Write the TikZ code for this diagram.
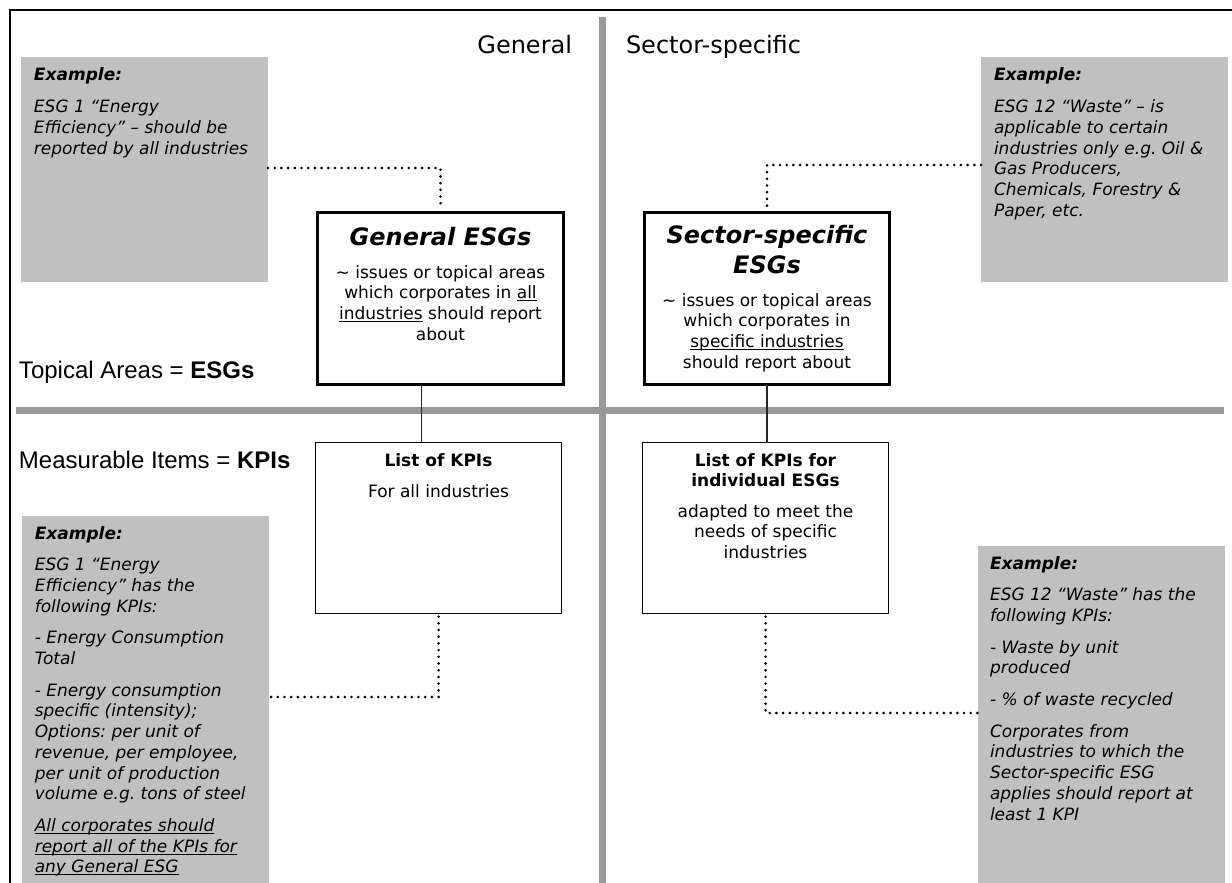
\documentclass[tikz,border=0pt]{standalone}
\usepackage{fontspec}
\setmainfont{DejaVu Sans}
\newfontfamily\arialfont{Liberation Sans}
\frenchspacing
\definecolor{boxgray}{RGB}{192,192,192}
\definecolor{divgray}{RGB}{152,152,152}
\newcommand\ulx[1]{\leavevmode\setbox0\hbox{#1}\rlap{\rule[-2.2pt]{\wd0}{0.8pt}}\box0\relax}
\newcommand\bodyfont{\fontsize{17}{20.7}\selectfont}
\tikzset{
  graybox/.style={fill=boxgray, draw=none, inner sep=0pt, outer sep=0pt, anchor=north west},
  esgbox/.style={draw=black, line width=3pt, inner sep=0pt, outer sep=0pt, anchor=north west, fill=white},
  kpibox/.style={draw=black, line width=1.3pt, inner sep=0pt, outer sep=0pt, anchor=north west, fill=white},
  extext/.style={anchor=base west, inner sep=0pt, outer sep=0pt},
  ctext/.style={anchor=base, inner sep=0pt, outer sep=0pt},
  headtext/.style={inner sep=0pt, outer sep=0pt, font=\fontsize{24}{28}\selectfont},
  dotline/.style={line width=2.9pt, line cap=round, dash pattern=on 0pt off 6.7pt, black},
  solidline/.style={line width=1.2pt, black!85},
  divider/.style={line width=7pt, divgray},
}
\begin{document}
\frenchspacing
\begin{tikzpicture}[x=1pt,y=-1pt]
\useasboundingbox (0,0) rectangle (1232,883);
% frame
\draw[line width=2pt] (1232,10.5) -- (10,10.5) -- (10,883);
% dividers
\draw[divider] (602,17) -- (602,883);
\draw[divider] (16,410) -- (1224,410);
% headings
\node[headtext, anchor=base east] (hgen) at (572,54) {General};
\node[headtext, anchor=base west] (hsec) at (626,54) {Sector-specific};
\node[headtext, anchor=base west] (htop) at (19,378) {\arialfont Topical Areas = \textbf{ESGs}};
\node[headtext, anchor=base west] (hmeas) at (19,468) {\arialfont Measurable Items = \textbf{KPIs}};
% gray example boxes
\node[graybox, minimum width=247pt, minimum height=225pt] (exTL) at (21,57) {};
\node[graybox, minimum width=247pt, minimum height=225pt] (exTR) at (981,57) {};
\node[graybox, minimum width=247pt, minimum height=367pt] (exBL) at (22,516) {};
\node[graybox, minimum width=247pt, minimum height=337pt] (exBR) at (978,546) {};
% ESG boxes
\node[esgbox, minimum width=246pt, minimum height=172pt] (genbox) at (317.5,212.5) {};
\node[esgbox, minimum width=245pt, minimum height=172pt] (secbox) at (644.5,212.5) {};
% KPI boxes
\node[kpibox, minimum width=246pt, minimum height=171pt] (genlist) at (315.6,442.6) {};
\node[kpibox, minimum width=246pt, minimum height=171pt] (seclist) at (642.6,442.6) {};
% connectors
\draw[solidline] ([xshift=-19pt]genbox.south) -- ([xshift=-19pt]genbox.south |- genlist.north);
\draw[solidline] (secbox.south) -- (secbox.south |- seclist.north);
\draw[dotline] ([yshift=-111pt]exTL.north east) -| ([yshift=3pt]genbox.north);
\draw[dotline] ([yshift=-108pt]exTR.north west) -| ([yshift=3pt]secbox.north);
\draw[dotline] ([yshift=-3pt]genlist.south) |- ([yshift=-181pt]exBL.north east);
\draw[dotline] ([yshift=-3pt]seclist.south) |- ([yshift=-167pt]exBR.north west);
% ESG box texts
\node[ctext, font=\fontsize{24}{30}\selectfont\bfseries\itshape] (gentitle) at (440.5,245) {General ESGs};
\node[ctext] (genbody) at (440.5,278) {\parbox[t]{240pt}{\centering\bodyfont
  \textasciitilde{} issues or topical areas\\ which corporates in \ulx{all}\\ \ulx{industries} should report\\ about}};
\node[ctext] (sectitle) at (767,243) {\parbox[t]{240pt}{\centering\fontsize{24}{30}\selectfont\bfseries\itshape
  Sector-specific\\ ESGs}};
\node[ctext] (secbody) at (767,306) {\parbox[t]{240pt}{\centering\bodyfont
  \textasciitilde{} issues or topical areas\\ which corporates in\\ \ulx{specific industries}\\ should report about}};
% KPI box texts
\node[ctext, font=\bodyfont\bfseries] (genlisttitle) at (438.5,466) {List of KPIs};
\node[ctext, font=\bodyfont] (genlistbody) at (438.5,497) {For all industries};
\node[ctext] (seclisttitle) at (765.5,466) {\parbox[t]{240pt}{\centering\fontsize{17}{20.5}\selectfont\bfseries
  List of KPIs for\\ individual ESGs}};
\node[ctext] (seclistbody) at (765.5,517) {\parbox[t]{240pt}{\centering\bodyfont
  adapted to meet the\\ needs of specific\\ industries}};
% example texts
\node[extext] (exTLt) at (34,81) {\parbox[t]{232pt}{\bodyfont\itshape\raggedright\setlength\parskip{11pt}%
  \textbf{Example:}\par
  ESG 1 “Energy\\ Efficiency” – should be\\ reported by all industries}};
\node[extext] (exTRt) at (994,81) {\parbox[t]{232pt}{\bodyfont\itshape\raggedright\setlength\parskip{11pt}%
  \textbf{Example:}\par
  ESG 12 “Waste” – is\\ applicable to certain\\ industries only e.g. Oil \&\\ Gas Producers,\\ Chemicals, Forestry \&\\ Paper, etc.}};
\node[extext] (exBLt) at (34.8,539) {\parbox[t]{232pt}{\bodyfont\itshape\raggedright\setlength\parskip{11pt}%
  \textbf{Example:}\par
  ESG 1 “Energy\\ Efficiency” has the\\ following KPIs:\par
  - Energy Consumption\\ Total\par
  - Energy consumption\\ specific (intensity);\\ Options: per unit of\\ revenue, per employee,\\ per unit of production\\ volume e.g. tons of steel\par
  \ulx{All corporates should}\\ \ulx{report all of the KPIs for}\\ \ulx{any General ESG}}};
\node[extext] (exBRt) at (990,569) {\parbox[t]{232pt}{\bodyfont\itshape\raggedright\setlength\parskip{11pt}%
  \textbf{Example:}\par
  ESG 12 “Waste” has the\\ following KPIs:\par
  - Waste by unit\\ produced\par
  - \% of waste recycled\par
  Corporates from\\ industries to which the\\ Sector-specific ESG\\ applies should report at\\ least 1 KPI}};
\end{tikzpicture}
\end{document}
